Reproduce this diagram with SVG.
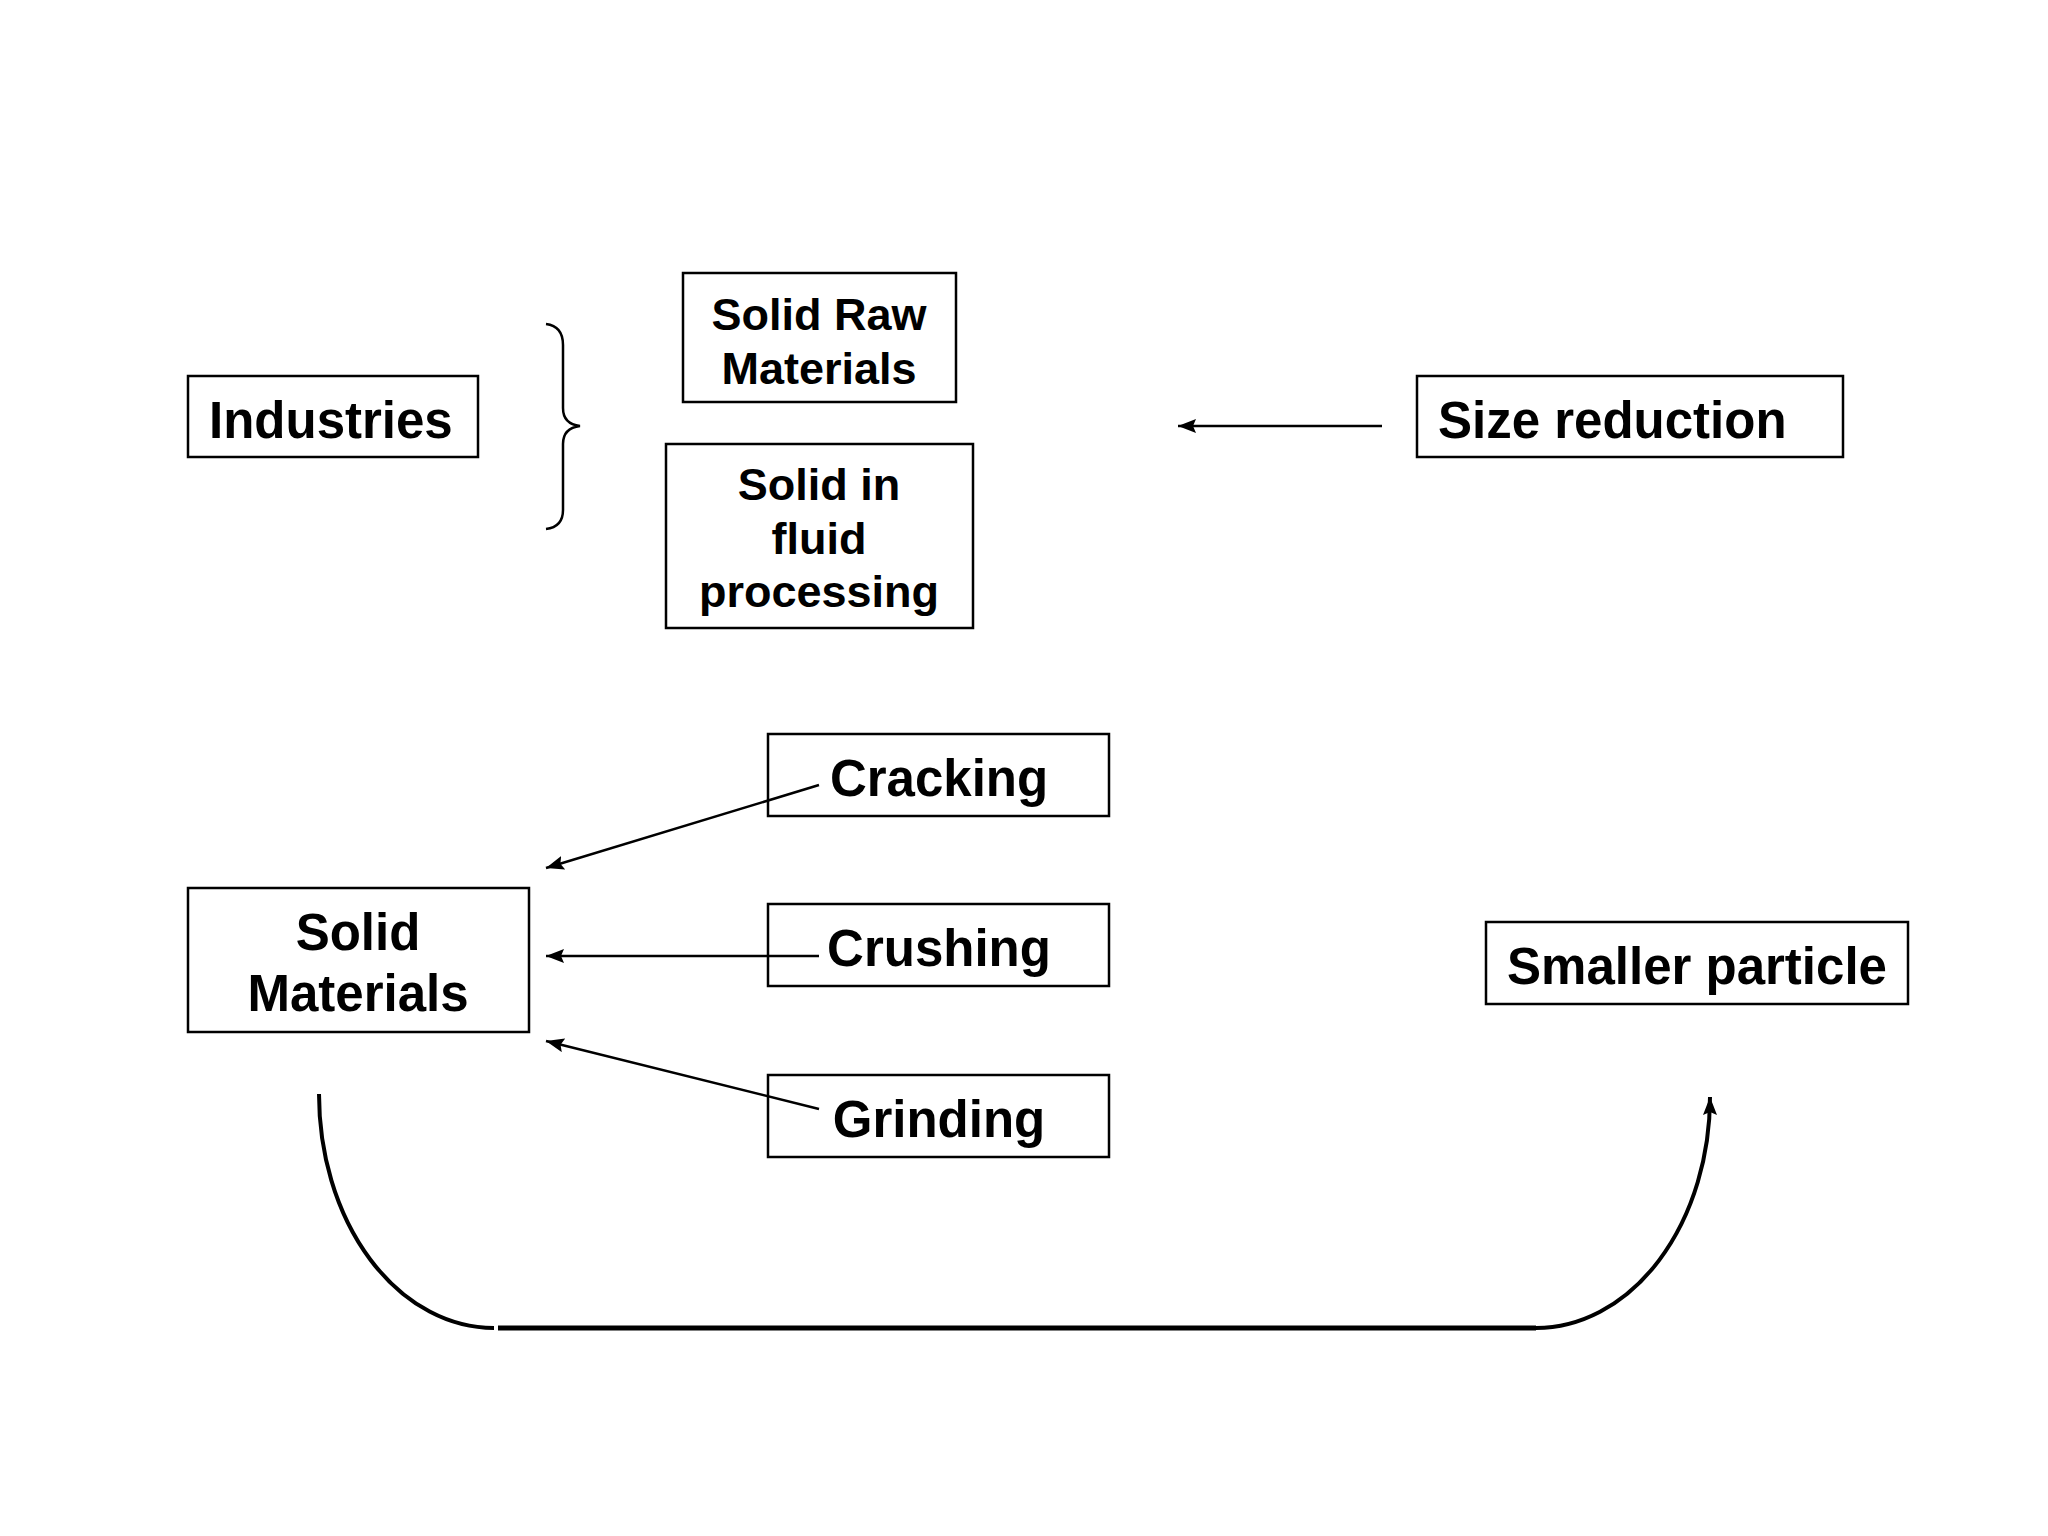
<svg xmlns="http://www.w3.org/2000/svg" width="2048" height="1536" viewBox="0 0 2048 1536">
<defs>
<style>
.box{fill:#fff;stroke:#000;stroke-width:2.5}
.t{font-family:"Liberation Sans",Arial,sans-serif;font-weight:bold;font-size:51px;fill:#000}
.m{text-anchor:middle}
.s{font-size:45px}
.c{fill:none;stroke:#000;stroke-width:2.5}
</style>
<marker id="ah" viewBox="0 0 18 14" refX="18" refY="7" markerWidth="18" markerHeight="14" markerUnits="userSpaceOnUse" orient="auto">
<path d="M0,0 L18,7 L0,14 L3,7 Z" fill="#000"/>
</marker>
</defs>
<rect width="2048" height="1536" fill="#fff"/>
<g id="industries"><rect class="box" x="188" y="376" width="290" height="81"/><text class="t" x="209" y="438">Industries</text></g>
<g id="solid-raw"><rect class="box" x="683" y="273" width="273" height="129"/><text class="t s m" x="819" y="330">Solid Raw</text><text class="t s m" x="819" y="384">Materials</text></g>
<g id="solid-fluid"><rect class="box" x="666" y="444" width="307" height="184"/><text class="t s m" x="819" y="500">Solid in</text><text class="t s m" x="819" y="554">fluid</text><text class="t s m" x="819" y="607">processing</text></g>
<g id="size-reduction"><rect class="box" x="1417" y="376" width="426" height="81"/><text class="t" x="1438" y="438">Size reduction</text></g>
<g id="cracking"><rect class="box" x="768" y="734" width="341" height="82"/><text class="t m" x="939" y="796">Cracking</text></g>
<g id="crushing"><rect class="box" x="768" y="904" width="341" height="82"/><text class="t m" x="939" y="966">Crushing</text></g>
<g id="grinding"><rect class="box" x="768" y="1075" width="341" height="82"/><text class="t m" x="939" y="1137">Grinding</text></g>
<g id="solid-materials"><rect class="box" x="188" y="888" width="341" height="144"/><text class="t m" x="358" y="950">Solid</text><text class="t m" x="358" y="1011">Materials</text></g>
<g id="smaller-particle"><rect class="box" x="1486" y="922" width="422" height="82"/><text class="t m" x="1697" y="984">Smaller particle</text></g>
<g id="connectors">
<path class="c" d="M546,324 Q563,326 563,345 L563,408 Q563,424 580,426 Q563,428 563,444 L563,510 Q563,527 546,529"/>
<line class="c" x1="1382" y1="426" x2="1178" y2="426" marker-end="url(#ah)"/>
<line class="c" x1="819" y1="785" x2="546" y2="868" marker-end="url(#ah)"/>
<line class="c" x1="819" y1="956" x2="546" y2="956" marker-end="url(#ah)"/>
<line class="c" x1="819" y1="1109" x2="546" y2="1041" marker-end="url(#ah)"/>
<path class="c" style="stroke-width:4" d="M319,1094 A175,234 0 0 0 494,1328"/>
<line class="c" style="stroke-width:5" x1="498" y1="1328" x2="1536" y2="1328"/>
<path class="c" style="stroke-width:4" d="M1536,1328 A174,231 0 0 0 1710,1097" marker-end="url(#ah)"/>
</g>
</svg>
